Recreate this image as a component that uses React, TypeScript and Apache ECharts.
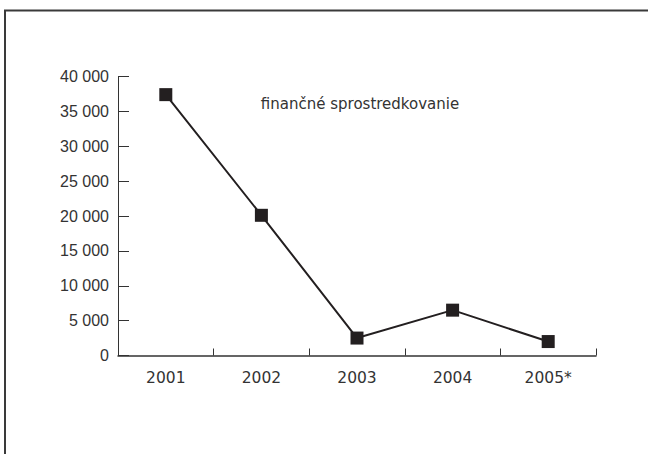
import React, { useEffect, useRef } from "react";
import * as echarts from "echarts";

const categories = ["2001", "2002", "2003", "2004", "2005*"];
const values = [37400, 20100, 2500, 6500, 2000];
const seriesName = "finančné sprostredkovanie";
const yMin = 0;
const yMax = 40000;
const yInterval = 5000;

const fmt = (v: number) => {
  const s = String(Math.round(v));
  return s.replace(/\B(?=(\d{3})+(?!\d))/g, " ");
};

export default function App() {
  const ref = useRef<HTMLDivElement>(null);
  useEffect(() => {
    if (!ref.current) return;
    const chart = echarts.init(ref.current, undefined, { renderer: "svg" });
    const font = "'Liberation Sans', Arial, sans-serif";
    const wide = "'DejaVu Sans', sans-serif";
    chart.setOption({
      animation: false,
      backgroundColor: "#ffffff",
      textStyle: { fontFamily: font },
      grid: { left: 118, right: 52, top: 76.5, bottom: 98.5, containLabel: false },
      graphic: [
        {
          type: "rect",
          shape: { x: 5, y: 10.5, width: 800, height: 600 },
          style: { fill: "none", stroke: "#3a3a3a", lineWidth: 2 },
          silent: true,
        },
        {
          type: "text",
          x: 360,
          y: 104,
          style: {
            text: seriesName,
            fontFamily: wide,
            fontSize: 15,
            fill: "#333333",
            textAlign: "center",
            textVerticalAlign: "middle",
          },
        },
      ],
      xAxis: {
        type: "category",
        data: categories,
        boundaryGap: true,
        axisLine: { show: true, lineStyle: { color: "#333333", width: 1.5 } },
        axisTick: { show: true, inside: true, length: 7, alignWithLabel: false, lineStyle: { color: "#333333", width: 1 } },
        axisLabel: { color: "#333333", fontSize: 15.5, fontFamily: wide, margin: 14 },
        splitLine: { show: false },
      },
      yAxis: {
        type: "value",
        min: yMin,
        max: yMax,
        interval: yInterval,
        axisLine: { show: true, lineStyle: { color: "#333333", width: 1 } },
        axisTick: { show: true, inside: true, length: 11, lineStyle: { color: "#333333", width: 1 } },
        axisLabel: { color: "#333333", fontSize: 16, fontFamily: font, margin: 9, formatter: (v: number) => fmt(v) },
        splitLine: { show: false },
      },
      series: [
        {
          name: seriesName,
          type: "line",
          data: values,
          symbol: "rect",
          symbolSize: 13,
          itemStyle: { color: "#231f20" },
          lineStyle: { color: "#231f20", width: 2 },
        },
      ],
    });
    return () => chart.dispose();
  }, []);
  return <div ref={ref} style={{ position: "fixed", left: 0, top: 0, width: 648, height: 454 }} />;
}
